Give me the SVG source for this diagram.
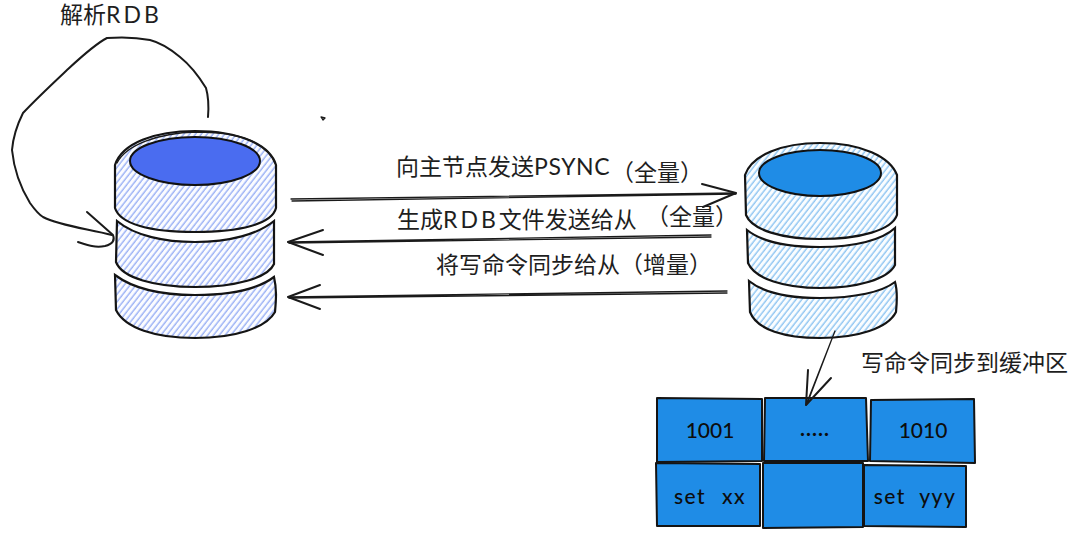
<svg xmlns="http://www.w3.org/2000/svg" width="1080" height="533" viewBox="0 0 1080 533">
<style>
text{font-family:"Lato","Noto Sans CJK SC",sans-serif;fill:#1e1e1e;font-size:23px;text-spacing-trim:space-all}
.r{letter-spacing:3px}
.p{letter-spacing:.6px}
.h{fill:#0d0d0d;font-weight:500;font-size:21px}
.o{fill:none;stroke:#1a1a1a;stroke-width:1.3;stroke-linecap:round;stroke-linejoin:round}
.t{stroke-width:2}
.box{fill:#1f8ce6;stroke:#141414;stroke-width:2;stroke-linejoin:round}
.pl{fill:url(#hl);stroke:#141414;stroke-width:2.2}
.pr{fill:url(#hr);stroke:#141414;stroke-width:2.2}
</style>
<defs>
<pattern id="hl" width="4.6" height="4.6" patternUnits="userSpaceOnUse" patternTransform="rotate(-52)"><rect width="4.6" height="4.6" fill="#fbfcff"/><line x1="0" y1="2" x2="4.6" y2="2" stroke="#88a2f4" stroke-width="1.2"/></pattern>
<pattern id="hr" width="4.6" height="4.6" patternUnits="userSpaceOnUse" patternTransform="rotate(-52)"><rect width="4.6" height="4.6" fill="#fafdff"/><line x1="0" y1="2" x2="4.6" y2="2" stroke="#7abaf0" stroke-width="1.2"/></pattern>
</defs>

<g id="db-left">
<path class="pl" d="M115 165C122 143 155 131 195 131C240 131 270 145 276 165L276 208C272 224 240 232 195 232C150 232 120 224 115 208Z"/>
<path class="o" d="M117 163C126 145 158 133 196 132C238 132 266 142 275 163"/>
<ellipse cx="195" cy="161" rx="65" ry="24" fill="#4a6cf0" stroke="#111" stroke-width="2"/>
<path class="pl" d="M117 221C135 236 165 242 195 242C230 242 258 234 274 221L274 264C268 278 235 287 195 287C155 287 122 278 116 262Z"/>
<path class="pl" d="M115 275C135 290 165 295 195 295C232 295 258 289 274 277C277 290 276 300 275 312C266 328 235 338 195 338C155 338 125 328 116 310Z"/>
</g>

<g id="db-right">
<path class="pr" d="M745 175C752 155 782 143 820 143C862 143 890 157 897 175L897 215C892 230 860 239 820 239C782 239 752 230 746 215Z"/>
<ellipse cx="820" cy="173" rx="61" ry="23" fill="#1f8ce6" stroke="#111" stroke-width="2"/>
<path class="pr" d="M747 230C762 242 790 247 820 247C855 247 882 240 895 228L895 265C888 279 858 288 820 288C785 288 755 279 748 263Z"/>
<path class="pr" d="M749 281C764 293 790 298 820 298C855 298 882 292 895 282C898 292 897 302 896 312C888 328 858 338 820 338C785 338 757 330 750 312Z"/>
</g>

<g id="buffer">
<g id="cell-1001"><path class="box" d="M657 398L762 399L762 461L657 462Z"/><text class="h" x="710" y="438" text-anchor="middle">1001</text></g>
<g id="cell-dots"><path class="box" d="M765 398L866 398L868 461L764 461Z"/><text class="h" x="815" y="436" text-anchor="middle" style="font-weight:700;letter-spacing:1px">.....</text></g>
<g id="cell-1010"><path class="box" d="M871 400L974 399L975 463L870 461Z"/><text class="h" x="923" y="438" text-anchor="middle">1010</text></g>
<g id="cell-setxx"><path class="box" d="M656 463L760 464L760 526L657 526Z"/><text class="h" x="710" y="504" text-anchor="middle" style="letter-spacing:1.5px;word-spacing:9px">set xx</text></g>
<g id="cell-empty"><path class="box" d="M763 463L863 463L863 527L763 528Z"/></g>
<g id="cell-setyyy"><path class="box" d="M864 465L966 466L966 527L864 526Z"/><text class="h" x="915" y="504" text-anchor="middle" style="letter-spacing:1.5px;word-spacing:7px">set yyy</text></g>
</g>

<g id="connectors">
<path class="o t" d="M208 117C209 105 208 95 206 88C198 75 190 65 180 57C168 47 158 42 150 40C135 37 120 37 107 38C95 44 80 58 67 70C50 86 35 100 23 113C17 125 13 138 12 150C14 170 22 190 30 203C35 210 38 214 43 217C60 226 90 229 112 235"/>
<path class="o t" d="M87 212L113 235C115 240 113 244 105 246C95 248 87 245 78 242"/>
<path class="o" d="M291 199L736 193M292 201L736 194"/>
<path class="o t" d="M702 184L736 193L703 207"/>
<path class="o" d="M711 235L288 242M711 237L289 243"/>
<path class="o t" d="M323 230L288 242L323 255"/>
<path class="o" d="M727 291L288 297M727 293L289 298"/>
<path class="o t" d="M320 285L288 297L320 309"/>
<path class="o" d="M835 331L806 405M833 336L807 404"/>
<path class="o t" d="M808 370L806 405L831 378"/>
<path class="o" d="M321 117L325 118L323 120Z"/>
</g>

<g id="labels">
<text x="60" y="23">解析<tspan class="r">RDB</tspan></text>
<text x="396" y="175">向主节点发送<tspan class="p">PSYNC</tspan></text>
<text x="611" y="181">（全量）</text>
<text x="397" y="228">生成<tspan class="r">RDB</tspan>文件发送给从</text>
<text x="646" y="225">（全量）</text>
<text x="436" y="273">将写命令同步给从（增量）</text>
<text x="861" y="371">写命令同步到缓冲区</text>
</g>
</svg>
